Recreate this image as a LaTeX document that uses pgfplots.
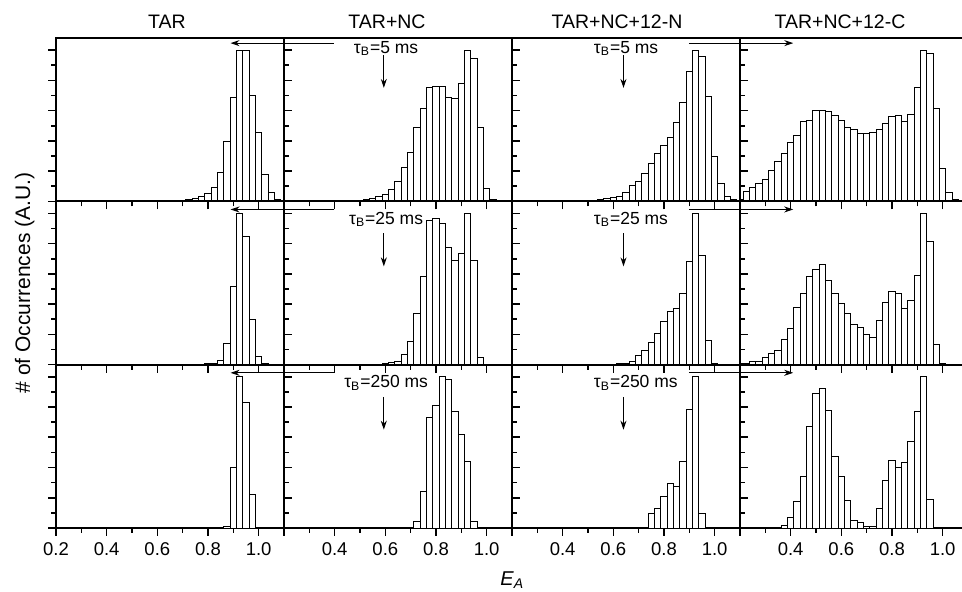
\documentclass[border=0pt]{standalone}
\usepackage{fontspec}
\setmainfont{Liberation Sans}
\usepackage{pgfplots}
\pgfplotsset{compat=1.18}
\usetikzlibrary{arrows.meta}

\pgfplotsset{
  panel/.style={
    scale only axis, width=114pt, height=81.67pt, anchor=south west,
    xmin=0.2, xmax=1.1, ymin=0, ymax=10.8,
    xtick={0.2,0.4,0.6,0.8,1.0}, minor x tick num=1, xticklabels={},
    ytick={0,2,4,6,8,10}, minor y tick num=1, yticklabels={},
    xtick pos=bottom, ytick pos=left,
    xtick align=outside, ytick align=inside,
    major tick length=4pt, minor tick length=2.5pt,
    axis line style={line width=1pt},
    tick style={line width=0.8pt, black},
    ybar, bar width=0.025, bar shift=0pt,
    clip mode=individual,
    every axis plot post/.append style={fill=white, draw=black, line width=0.45pt},
    ticklabel style={font=\fontsize{9.25}{11}\selectfont},
  },
  first/.style={ytick align=outside},
}
\tikzset{
  harr/.style={line width=0.5pt, -{Stealth[length=4.5pt,width=3pt]}},
  tau/.style={inner sep=0pt, font=\fontsize{8.75}{10}\selectfont},
}

\begin{document}
\begin{tikzpicture}
\path[use as bounding box] (0,0) rectangle (481pt,296pt);

% ---- row 1 ----
\begin{axis}[panel, first, at={(28pt,195.33pt)}]
\addplot coordinates {(0.7,0.07)(0.725,0.1)(0.75,0.18)(0.775,0.29)(0.8,0.55)(0.825,0.95)(0.85,1.93)(0.875,3.98)(0.9,6.9)(0.925,10)(0.95,10)(0.975,7.03)(1.0,4.57)(1.025,1.76)(1.05,0.62)(1.075,0.15)};
\end{axis}
\begin{axis}[panel, at={(142pt,195.33pt)}]
\addplot coordinates {(0.5,0.07)(0.525,0.1)(0.55,0.18)(0.575,0.29)(0.6,0.44)(0.625,0.81)(0.65,1.32)(0.675,2.24)(0.7,3.25)(0.725,4.9)(0.75,6.15)(0.775,7.52)(0.8,7.58)(0.825,7.58)(0.85,6.86)(0.875,6.77)(0.9,7.78)(0.925,10)(0.95,9.45)(0.975,4.88)(1.0,0.84)(1.025,0.11)};
\draw[harr] (axis cs:0.397,10.46) -- (axis cs:-0.011,10.46);
\draw[harr] (axis cs:0.594,9.67) -- (axis cs:0.594,7.5);
\node[tau] at (axis cs:0.603,10.13) {τ\textsubscript{B}=5 ms};
\end{axis}
\begin{axis}[panel, at={(256pt,195.33pt)}]
\addplot coordinates {(0.525,0.07)(0.55,0.1)(0.575,0.18)(0.6,0.26)(0.625,0.33)(0.65,0.59)(0.675,1.03)(0.7,1.32)(0.725,1.87)(0.75,2.53)(0.775,3.14)(0.8,3.69)(0.825,4.24)(0.85,5.21)(0.875,6.55)(0.9,8.62)(0.925,10)(0.95,9.56)(0.975,6.92)(1.0,2.97)(1.025,1.21)(1.05,0.33)(1.075,0.1)};
\draw[harr] (axis cs:0.898,10.46) -- (axis cs:1.31,10.46);
\draw[harr] (axis cs:0.64,9.67) -- (axis cs:0.64,7.5);
\node[tau, anchor=west] at (axis cs:0.522,10.13) {τ\textsubscript{B}=5 ms};
\end{axis}
\begin{axis}[panel, at={(370pt,195.33pt)}]
\addplot coordinates {(0.2,0.15)(0.225,0.66)(0.25,0.92)(0.275,1.21)(0.3,1.43)(0.325,2.02)(0.35,2.64)(0.375,3.19)(0.4,3.89)(0.425,4.33)(0.45,5.25)(0.475,5.34)(0.5,6.04)(0.525,6.04)(0.55,5.93)(0.575,5.69)(0.6,5.34)(0.625,4.86)(0.65,4.77)(0.675,4.48)(0.7,4.48)(0.725,4.57)(0.75,4.77)(0.775,5.16)(0.8,5.58)(0.825,5.65)(0.85,5.30)(0.875,5.76)(0.9,7.52)(0.925,10)(0.95,9.78)(0.975,6.13)(1.0,2.18)(1.025,0.59)(1.05,0.15)};
\end{axis}

% ---- row 2 ----
\begin{axis}[panel, first, at={(28pt,113.67pt)}]
\addplot coordinates {(0.7,0.03)(0.725,0.03)(0.75,0.04)(0.775,0.04)(0.8,0.05)(0.825,0.11)(0.85,0.29)(0.875,1.37)(0.9,5.19)(0.925,10)(0.95,8.45)(0.975,3.02)(1.0,0.51)(1.025,0.05)};
\end{axis}
\begin{axis}[panel, at={(142pt,113.67pt)}]
\addplot coordinates {(0.55,0.03)(0.575,0.04)(0.6,0.07)(0.625,0.15)(0.65,0.22)(0.675,0.66)(0.7,1.55)(0.725,3.38)(0.75,5.81)(0.775,9.54)(0.8,9.65)(0.825,9.32)(0.85,7.73)(0.875,6.91)(0.9,7.33)(0.925,10)(0.95,6.91)(0.975,0.46)};
\draw[harr] (axis cs:0.397,10.26) -- (axis cs:-0.011,10.26);
\draw[harr] (axis cs:0.594,8.7) -- (axis cs:0.594,6.5);
\node[tau] at (axis cs:0.603,9.6) {τ\textsubscript{B}=25 ms};
\end{axis}
\begin{axis}[panel, at={(256pt,113.67pt)}]
\addplot coordinates {(0.55,0.04)(0.575,0.04)(0.6,0.04)(0.625,0.07)(0.65,0.11)(0.675,0.22)(0.7,0.6)(0.725,0.93)(0.75,1.5)(0.775,2.03)(0.8,2.83)(0.825,3.53)(0.85,3.69)(0.875,4.7)(0.9,6.84)(0.925,10)(0.95,7.22)(0.975,1.59)(1.0,0.11)};
\draw[harr] (axis cs:0.898,10.26) -- (axis cs:1.31,10.26);
\draw[harr] (axis cs:0.64,8.7) -- (axis cs:0.64,6.5);
\node[tau, anchor=west] at (axis cs:0.522,9.6) {τ\textsubscript{B}=25 ms};
\end{axis}
\begin{axis}[panel, at={(370pt,113.67pt)}]
\addplot coordinates {(0.2,0.07)(0.225,0.1)(0.25,0.22)(0.275,0.22)(0.3,0.46)(0.325,0.73)(0.35,0.97)(0.375,1.66)(0.4,2.41)(0.425,3.77)(0.45,4.72)(0.475,5.81)(0.5,6.27)(0.525,6.64)(0.55,5.56)(0.575,4.72)(0.6,4.06)(0.625,3.36)(0.65,2.69)(0.675,2.49)(0.7,2.01)(0.725,1.83)(0.75,2.89)(0.775,4.08)(0.8,4.81)(0.825,4.68)(0.85,3.71)(0.875,4.22)(0.9,5.92)(0.925,10)(0.95,8.17)(0.975,1.32)(1.0,0.11)(1.025,0.04)};
\end{axis}

% ---- row 3 ----
\begin{axis}[panel, first, at={(28pt,32pt)}, xticklabels={0.2,0.4,0.6,0.8,1.0}]
\addplot coordinates {(0.75,0.02)(0.775,0.02)(0.8,0.02)(0.825,0.04)(0.85,0.02)(0.875,0.13)(0.9,4.03)(0.925,10)(0.95,8.27)(0.975,2.23)};
\end{axis}
\begin{axis}[panel, at={(142pt,32pt)}, xticklabels={,0.4,0.6,0.8,1.0}]
\addplot coordinates {(0.7,0.03)(0.725,0.44)(0.75,2.41)(0.775,7.28)(0.8,8.10)(0.825,10)(0.85,9.82)(0.875,7.72)(0.9,6.17)(0.925,4.40)(0.95,0.44)};
\draw[harr] (axis cs:0.397,10.26) -- (axis cs:-0.011,10.26);
\draw[harr] (axis cs:0.594,8.67) -- (axis cs:0.594,6.5);
\node[tau] at (axis cs:0.603,9.6) {τ\textsubscript{B}=250 ms};
\end{axis}
\begin{axis}[panel, at={(256pt,32pt)}, xticklabels={,0.4,0.6,0.8,1.0}]
\addplot coordinates {(0.675,0.05)(0.7,0.05)(0.725,0.05)(0.75,0.93)(0.775,1.31)(0.8,2.06)(0.825,2.92)(0.85,2.74)(0.875,4.40)(0.9,7.83)(0.925,10)(0.95,0.93)};
\draw[harr] (axis cs:0.898,10.26) -- (axis cs:1.31,10.26);
\draw[harr] (axis cs:0.64,8.67) -- (axis cs:0.64,6.5);
\node[tau, anchor=west] at (axis cs:0.522,9.6) {τ\textsubscript{B}=250 ms};
\end{axis}
\begin{axis}[panel, at={(370pt,32pt)}, xticklabels={,0.4,0.6,0.8,1.0}]
\addplot coordinates {(0.3,0.04)(0.325,0.04)(0.35,0.04)(0.375,0.2)(0.4,0.71)(0.425,1.75)(0.45,3.41)(0.475,6.73)(0.5,8.87)(0.525,9.2)(0.55,7.77)(0.575,4.73)(0.6,3.41)(0.625,1.81)(0.65,0.53)(0.675,0.38)(0.7,0.09)(0.725,0.13)(0.75,1.26)(0.775,3.14)(0.8,4.47)(0.825,4.03)(0.85,4.34)(0.875,5.69)(0.9,7.68)(0.925,10)(0.95,1.9)};
\end{axis}

% titles and labels
\node[anchor=base, font=\fontsize{9.75}{11}\selectfont] at (83.5pt,281.75pt) {TAR};
\node[anchor=base, font=\fontsize{9.75}{11}\selectfont] at (193.5pt,281.75pt) {TAR+NC};
\node[anchor=base, font=\fontsize{9.75}{11}\selectfont] at (308.5pt,281.75pt) {TAR+NC+12-N};
\node[anchor=base, font=\fontsize{9.75}{11}\selectfont] at (420pt,281.75pt) {TAR+NC+12-C};
\node[anchor=base, rotate=90, font=\fontsize{10.5}{12}\selectfont] at (15pt,154.5pt) {\# of Occurrences (A.U.)};
\node[anchor=base west, inner sep=0pt, font=\fontsize{10}{12}\selectfont] at (250pt,3pt) {\textit{E}\textsubscript{\textit{A}}};
\end{tikzpicture}
\end{document}
